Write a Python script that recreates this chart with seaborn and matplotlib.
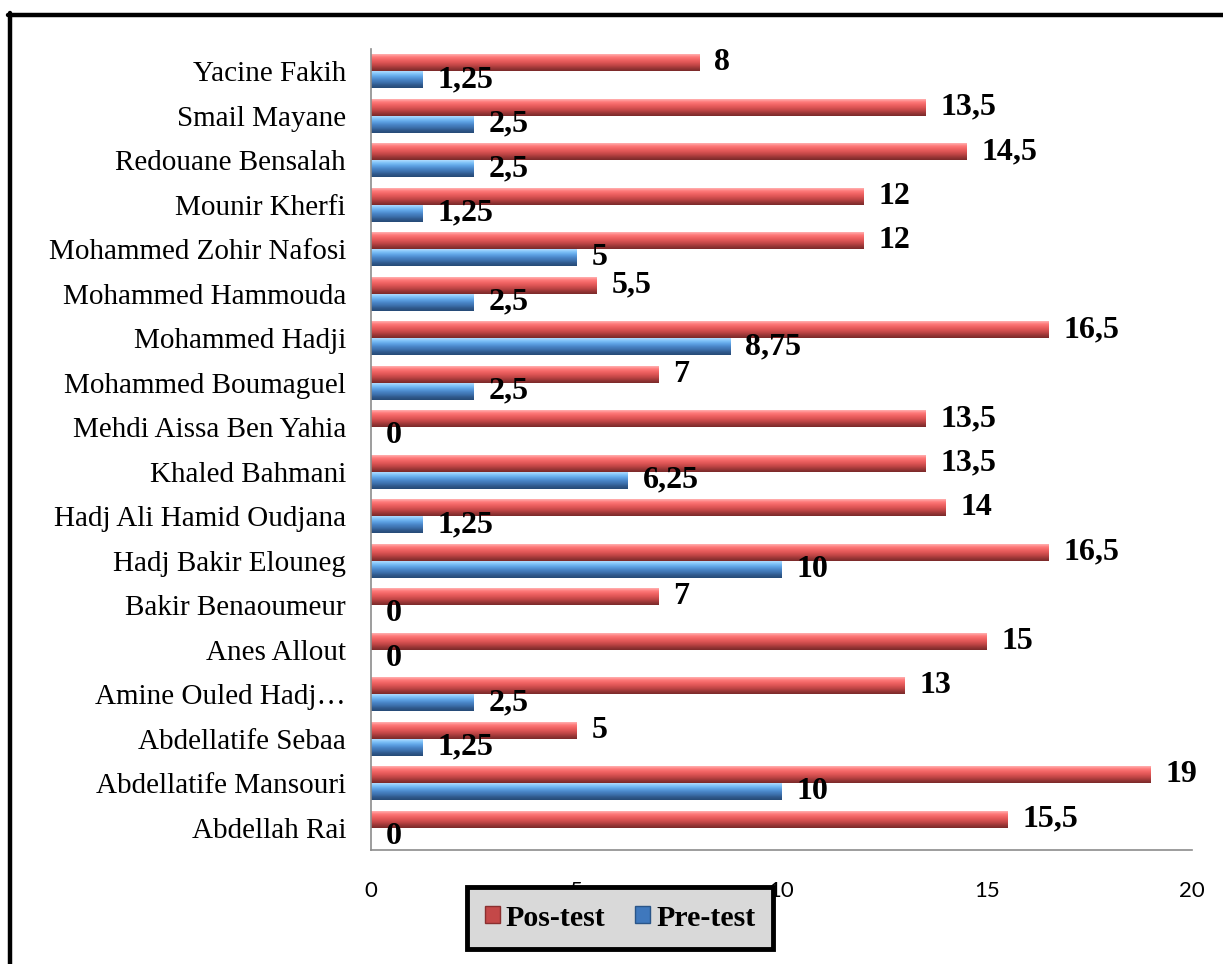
import matplotlib
matplotlib.use('Agg')
import matplotlib.pyplot as plt
from matplotlib.colors import LinearSegmentedColormap
from matplotlib.lines import Line2D
from matplotlib.patches import Patch
import numpy as np
import pandas as pd
import seaborn as sns

# dane: nazwiska od góry do dołu wykresu
uczniowie = [
    'Yacine Fakih', 'Smail Mayane', 'Redouane Bensalah', 'Mounir Kherfi',
    'Mohammed Zohir Nafosi', 'Mohammed Hammouda', 'Mohammed Hadji',
    'Mohammed Boumaguel', 'Mehdi Aissa Ben Yahia', 'Khaled Bahmani',
    'Hadj Ali Hamid Oudjana', 'Hadj Bakir Elouneg', 'Bakir Benaoumeur',
    'Anes Allout', 'Amine Ouled Hadj…', 'Abdellatife Sebaa',
    'Abdellatife Mansouri', 'Abdellah Rai',
]
pos_test = [8, 13.5, 14.5, 12, 12, 5.5, 16.5, 7, 13.5, 13.5, 14, 16.5, 7, 15, 13, 5, 19, 15.5]
pre_test = [1.25, 2.5, 2.5, 1.25, 5, 2.5, 8.75, 2.5, 0, 6.25, 1.25, 10, 0, 0, 2.5, 1.25, 10, 0]
serie = ['Pos-test', 'Pre-test']
x_ticks = [0, 5, 10, 15, 20]

df = pd.DataFrame({
    'uczen': uczniowie * 2,
    'wynik': pos_test + pre_test,
    'test': [serie[0]] * len(uczniowie) + [serie[1]] * len(uczniowie),
})

sns.set_style('white')
plt.rcParams['font.family'] = ['Liberation Serif', 'DejaVu Serif']
plt.rcParams['text.color'] = 'black'
plt.rcParams['xtick.labelcolor'] = 'black'
plt.rcParams['ytick.labelcolor'] = 'black'

fig = plt.figure(figsize=(12.23, 9.64), dpi=100)
ax = fig.add_axes([371 / 1223, 1 - 850 / 964, (1192 - 371) / 1223, (850 - 49) / 964])

kolory = {'Pos-test': '#e05a5a', 'Pre-test': '#4a86c8'}
gradienty = {
    'Pos-test': ['#ffb0b0', '#ff7a7a', '#f06464', '#dc5454', '#c04646', '#9a3636', '#7a2a2a'],
    'Pre-test': ['#b0dcff', '#7cc0f8', '#5ea2e4', '#4a86c8', '#3e72ae', '#30598c', '#264a76'],
}

sns.barplot(data=df, y='uczen', x='wynik', hue='test', hue_order=serie,
            order=uczniowie, palette=kolory, orient='h', width=0.76,
            saturation=1, legend=False, ax=ax)

# cieniowanie słupków (efekt wypukłości)
for kontener, nazwa in zip(ax.containers, serie):
    cmap = LinearSegmentedColormap.from_list(nazwa, gradienty[nazwa])
    grad = np.linspace(0, 1, 64).reshape(-1, 1)
    for pasek in kontener:
        x0, y0 = pasek.get_x(), pasek.get_y()
        w, h = pasek.get_width(), pasek.get_height()
        if w <= 0:
            continue
        im = ax.imshow(grad, cmap=cmap, aspect='auto', extent=(x0, x0 + w, y0 + h, y0),
                       origin='upper', zorder=pasek.get_zorder() + 0.1, interpolation='bilinear')
        im.set_clip_path(pasek)

# etykiety wartości
for kontener, wartosci in zip(ax.containers, [pos_test, pre_test]):
    for pasek, v in zip(kontener, wartosci):
        tekst = f'{v:g}'.replace('.', ',')
        ax.annotate(tekst, (pasek.get_width(), pasek.get_y() + pasek.get_height() / 2),
                    xytext=(15, 0), textcoords='offset pixels', ha='left', va='center',
                    fontsize=23, fontweight='bold', color='black')

ax.set_xlim(0, 20)
ax.set_ylim(len(uczniowie) - 0.5, -0.5)
ax.set_xticks(x_ticks)
ax.set_xticklabels([str(t) for t in x_ticks], fontfamily='Lato', fontsize=16)
ax.tick_params(axis='x', length=0, pad=22)
ax.tick_params(axis='y', length=0, pad=18, labelsize=21)
ax.set_xlabel('')
ax.set_ylabel('')
for s in ['top', 'right']:
    ax.spines[s].set_visible(False)
for s in ['left', 'bottom']:
    ax.spines[s].set_color('#8c8c8c')
    ax.spines[s].set_linewidth(1.2)

# legenda
uchwyty = [Patch(facecolor='#c44848', edgecolor='#8a2f2f'),
           Patch(facecolor='#3f78bd', edgecolor='#2a5588')]
leg = fig.legend(uchwyty, serie, loc='center', bbox_to_anchor=(620 / 1223, 1 - 918 / 964),
                 ncol=2, frameon=True, fancybox=False, framealpha=1,
                 facecolor='#d9d9d9', edgecolor='black',
                 prop={'family': 'Liberation Serif', 'weight': 'bold', 'size': 21.5},
                 handlelength=0.5, handleheight=0.5, handletextpad=0.2,
                 columnspacing=1.0, borderpad=0.6)
leg.get_frame().set_linewidth(3.5)
leg.set_zorder(10)

# ramka wokół całego rysunku
fig.add_artist(Line2D([8 / 1223, 1.0], [1 - 15 / 964] * 2, color='black', lw=3.2,
                      transform=fig.transFigure))
fig.add_artist(Line2D([10 / 1223] * 2, [1 - 13 / 964, 0.0], color='black', lw=3.2,
                      transform=fig.transFigure))

fig.savefig('out.png', dpi=100)
